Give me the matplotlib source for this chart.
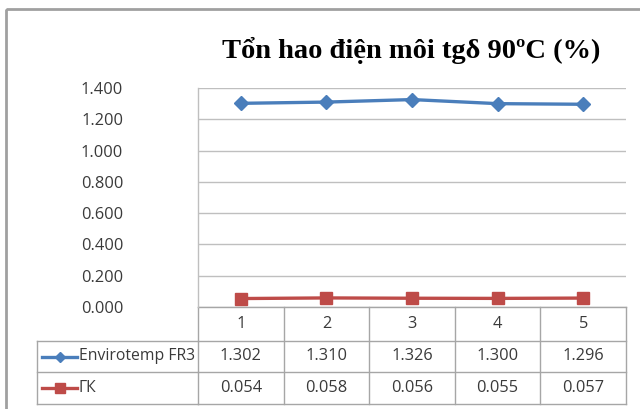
import matplotlib
matplotlib.use("Agg")
import matplotlib.pyplot as plt
import matplotlib.transforms as mtransforms
from matplotlib.patches import Rectangle

# số liệu
samples = [1, 2, 3, 4, 5]
fr3_vals = [1.302, 1.310, 1.326, 1.300, 1.296]
gk_vals = [0.054, 0.058, 0.056, 0.055, 0.057]
series_names = ["Envirotemp FR3", "ГК"]
yticks = [0.0, 0.2, 0.4, 0.6, 0.8, 1.0, 1.2, 1.4]

BLUE = "#4a7ebb"
RED = "#be4b48"
GRID = "#bfbfbf"
TXT = "#3a3a3a"
FONT = ["Open Sans", "DejaVu Sans"]
FS = 11.8

W, H = 640, 409
fig = plt.figure(figsize=(W / 100, H / 100), dpi=100)
fig.patch.set_facecolor("white")

# vùng vẽ (toạ độ pixel)
ax_l, ax_r, ax_t, ax_b = 198, 626, 88, 307
ax = fig.add_axes([ax_l / W, 1 - ax_b / H, (ax_r - ax_l) / W, (ax_b - ax_t) / H])

# lớp phủ pixel cho bảng và khung viền
over = fig.add_axes([0, 0, 1, 1], zorder=-1)
over.set_xlim(0, W)
over.set_ylim(H, 0)
over.axis("off")

ax.plot(samples, fr3_vals, color=BLUE, lw=2.4, marker="D", ms=7, zorder=3)
ax.plot(samples, gk_vals, color=RED, lw=2.4, marker="s", ms=8.5, zorder=3)

ax.set_xlim(0.5, 5.5)
ax.set_ylim(0, 1.4)
ax.set_yticks(yticks)
ax.set_yticklabels([f"{v:.3f}" for v in yticks], family=FONT, fontsize=FS, color=TXT)
ax.set_xticks([])
ax.tick_params(axis="y", length=0, pad=54)
ax.grid(axis="y", color=GRID, lw=1)
ax.set_axisbelow(True)
for s in ["top", "right", "bottom"]:
    ax.spines[s].set_visible(False)
ax.spines["left"].set_color(GRID)
ax.spines["left"].set_linewidth(1)
ax.patch.set_alpha(0)

# bảng dữ liệu bên dưới
tr = mtransforms.blended_transform_factory(ax.transData, over.transData)
row_y = [307, 341, 372, 404]
leg_l = 37
lc = "#a6a6a6"
x_edges = [s - 0.5 for s in samples] + [samples[-1] + 0.5]
for xe in x_edges:
    over.plot([xe, xe], [row_y[0], row_y[-1]], color=lc, lw=1, transform=tr)
for y in row_y:
    over.plot([x_edges[0], x_edges[-1]], [y, y], color=lc, lw=1, transform=tr)
for y in row_y[1:]:
    over.plot([leg_l, ax_l], [y, y], color=lc, lw=1)
over.plot([leg_l, leg_l], [row_y[1], row_y[-1]], color=lc, lw=1)

for s in samples:
    over.text(s, (row_y[0] + row_y[1]) / 2, str(s), transform=tr, ha="center", va="center",
              family=FONT, fontsize=FS, color=TXT)
for vals, r in [(fr3_vals, 1), (gk_vals, 2)]:
    yc = (row_y[r] + row_y[r + 1]) / 2
    for s, v in zip(samples, vals):
        over.text(s, yc, f"{v:.3f}", transform=tr, ha="center", va="center",
                  family=FONT, fontsize=FS, color=TXT)

# chú giải trong bảng
for name, col, mk, ms, r in [(series_names[0], BLUE, "D", 5, 1), (series_names[1], RED, "s", 7.5, 2)]:
    yc = (row_y[r] + row_y[r + 1]) / 2
    over.plot([42, 77], [yc, yc], color=col, lw=2.4)
    over.plot([59.5], [yc], color=col, marker=mk, ms=ms)
    over.text(79, yc, name, ha="left", va="center", family=FONT, fontsize=FS - 0.5, color=TXT)

# khung viền ngoài
over.add_patch(Rectangle((6, 9), 700, 500, fill=False, ec="#a0a0a0", lw=2))

fig.text(411 / W, 1 - 50 / H, "Tổn hao điện môi tgδ 90ºC (%)", ha="center", va="center",
         family=["Liberation Serif", "DejaVu Serif"], fontsize=20.5, fontweight="bold", color="black")

fig.savefig("out.png", dpi=100)
